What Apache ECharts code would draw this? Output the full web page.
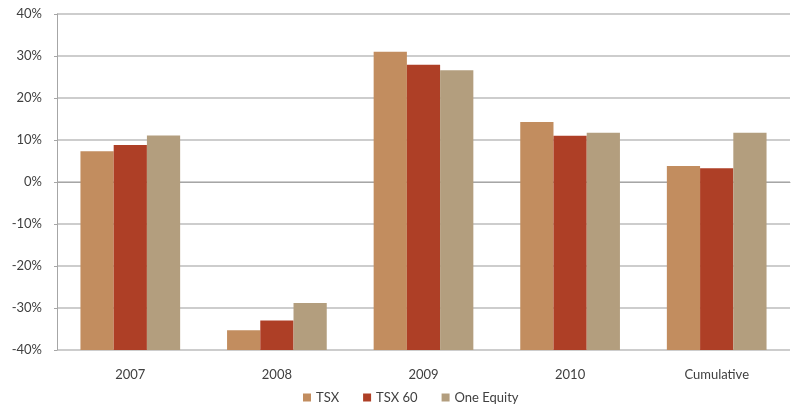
<!DOCTYPE html>
<html>
<head>
<meta charset="utf-8">
<script src="https://cdn.jsdelivr.net/npm/echarts@6/dist/echarts.min.js"></script>
<style>html,body{margin:0;padding:0;background:#fff;}#c{width:792px;height:404px;}</style>
</head>
<body>
<div id="c"></div>
<script>
var categories = ['2007', '2008', '2009', '2010', 'Cumulative'];
var seriesNames = ['TSX', 'TSX 60', 'One Equity'];
var tsx = [7.3, -35.3, 31.0, 14.3, 3.8];
var tsx60 = [8.8, -33.0, 27.9, 11.0, 3.3];
var oneEquity = [11.1, -28.8, 26.6, 11.7, 11.7];
var colors = ['#C28D5F', '#AE3F26', '#B39E7E'];

var chart = echarts.init(document.getElementById('c'));
var font = 'Lato, "Open Sans", sans-serif';
function mk(name, data, color) {
  return {
    name: name, type: 'bar', data: data,
    barGap: '0%', barCategoryGap: '32%',
    itemStyle: { color: color },
    emphasis: { disabled: true }
  };
}
chart.setOption({
  animation: false,
  grid: { left: 57, right: 2, top: 14, bottom: 54 },
  legend: {
    top: 386, left: 298,
    icon: 'rect', itemWidth: 8, itemHeight: 8, itemGap: 24,
    textStyle: { fontFamily: font, fontSize: 13, color: '#404040' },
    data: seriesNames
  },
  xAxis: {
    type: 'category', data: categories,
    axisLine: { lineStyle: { color: '#a6a6a6', width: 1 } },
    axisTick: { show: false },
    axisLabel: { fontFamily: font, fontSize: 13, color: '#404040', margin: 18 }
  },
  yAxis: {
    type: 'value', min: -40, max: 40, interval: 10, startValue: -40,
    axisLine: { show: true, lineStyle: { color: '#a6a6a6' } },
    axisTick: { show: true, length: 3, lineStyle: { color: '#a6a6a6' } },
    splitLine: { lineStyle: { color: '#bdbdbd', width: 1.5 } },
    axisLabel: { fontFamily: font, fontSize: 13, color: '#404040', margin: 15, formatter: '{value}%' }
  },
  series: [mk(seriesNames[0], tsx, colors[0]), mk(seriesNames[1], tsx60, colors[1]), mk(seriesNames[2], oneEquity, colors[2])]
});
</script>
</body>
</html>
